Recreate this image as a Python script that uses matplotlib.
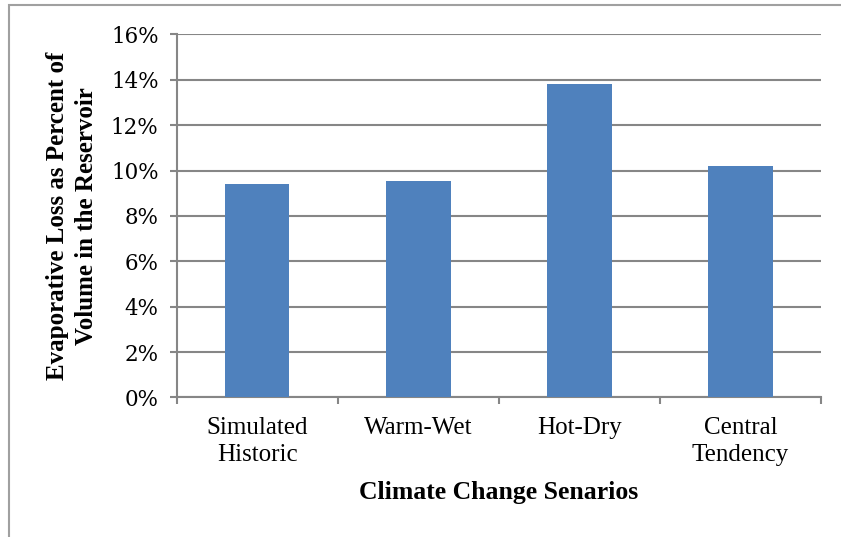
import matplotlib.pyplot as plt
from matplotlib.patches import Rectangle
from matplotlib.ticker import PercentFormatter

# data
scenarios = ["Simulated\nHistoric", "Warm-Wet", "Hot-Dry", "Central\nTendency"]
evap_loss = [9.43, 9.56, 13.83, 10.22]  # percent
y_ticks = [0, 2, 4, 6, 8, 10, 12, 14, 16]

BAR_COLOR = "#4F81BD"
GRID_COLOR = "#868686"

fig = plt.figure(figsize=(8.41, 5.37), dpi=100)
ax = fig.add_axes([0.2101, 0.2598, 0.9762 - 0.2101, 0.9358 - 0.2598])

# chart area border (Excel style)
fig.patches.append(Rectangle((9 / 841, -0.05), 1.05, 1 - 5 / 537 + 0.05,
                             transform=fig.transFigure, fill=False,
                             edgecolor="#a0a0a0", linewidth=1.5))

x = range(len(scenarios))
ax.bar(x, evap_loss, width=0.4, color=BAR_COLOR, zorder=3)

ax.set_xlim(-0.5, len(scenarios) - 0.5)
ax.set_ylim(0, 16)
ax.set_yticks(y_ticks)
ax.yaxis.set_major_formatter(PercentFormatter(decimals=0))
ax.grid(axis="y", color=GRID_COLOR, linewidth=1.5, zorder=0)

ax.set_xticks(list(x))
ax.set_xticklabels(scenarios, fontfamily="Liberation Serif", fontsize=18,
                   linespacing=1.3)
ax.set_xticks([i - 0.5 for i in range(len(scenarios) + 1)], minor=True)
ax.tick_params(axis="x", which="major", length=0, pad=14)
ax.tick_params(axis="x", which="minor", length=5, width=1.5, color=GRID_COLOR)
ax.tick_params(axis="y", length=5, width=1.5, color=GRID_COLOR, pad=8)
for lbl in ax.get_yticklabels():
    lbl.set_fontfamily("DejaVu Serif")
    lbl.set_fontsize(15.5)

for side in ["top", "right"]:
    ax.spines[side].set_visible(False)
for side in ["left", "bottom"]:
    ax.spines[side].set_color(GRID_COLOR)
    ax.spines[side].set_linewidth(1.5)

fig.text(72 / 841, 0.598, "Evaporative Loss as Percent of\nVolume in the Reservoir",
         rotation=90, ha="center", va="center", fontfamily="Liberation Serif",
         fontweight="bold", fontsize=18, linespacing=1.3)
fig.text(499 / 841, 1 - 492 / 537, "Climate Change Senarios", ha="center",
         va="center", fontfamily="Liberation Serif", fontweight="bold", fontsize=18.5)

fig.savefig("out.png", dpi=100)
